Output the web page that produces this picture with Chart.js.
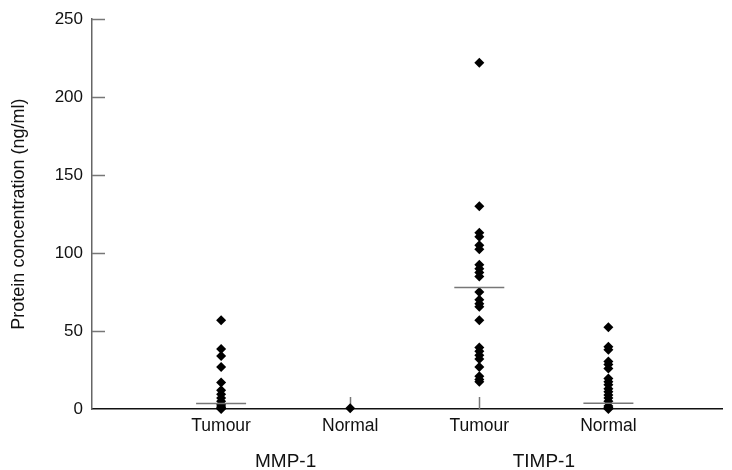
<!DOCTYPE html>
<html>
<head>
<meta charset="utf-8">
<script src="https://cdn.jsdelivr.net/npm/chart.js@4.4.1/dist/chart.umd.min.js"></script>
<style>
  html, body { margin: 0; padding: 0; background: #fff; }
  #wrap { width: 732px; height: 470px; }
</style>
</head>
<body>
<div id="wrap"><canvas id="scatterChart"></canvas></div>
<script>
// categories along the x axis
var catLabels = ['Tumour', 'Normal', 'Tumour', 'Normal'];
var groupLabels = ['MMP-1', 'TIMP-1'];
var yTicks = [0, 50, 100, 150, 200, 250];

// protein concentration (ng/ml)
var mmpTumour = [57, 38.5, 34, 27, 17, 12, 9.5, 7, 5, 3, 2, 1, 0.5, 0];
var mmpNormal = [0.5];
var timpTumour = [222, 130, 113, 110.5, 105, 102.5, 92.5, 90, 87.5, 85, 75, 70, 67.5, 65.5,
                  57, 39.5, 37, 34.5, 32, 27, 21, 19, 17.5];
var timpNormal = [52.5, 40, 38, 30.5, 28.5, 26, 19.5, 17.5, 15.5, 13, 11, 9, 7, 5, 2, 1, 0];

// medians, one per column
var medians = [3.5, null, 78, 3.7];

var groups = [mmpTumour, mmpNormal, timpTumour, timpNormal];

var pts = [];
groups.forEach(function(arr, i) {
  arr.forEach(function(v) { pts.push({x: i + 1, y: v}); });
});
var medPts = [];
medians.forEach(function(v, i) {
  if (v !== null) medPts.push({x: i + 1, y: v});
});

var FONT = "'Liberation Sans', Arial, Helvetica, sans-serif";

// inside tick marks + group names under the axis
var axisExtras = {
  id: 'axisExtras',
  beforeDatasetsDraw: function(chart) {
    var ctx = chart.ctx, xs = chart.scales.x, ys = chart.scales.y;
    ctx.save();
    ctx.strokeStyle = '#777';
    ctx.lineWidth = 1.5;
    yTicks.forEach(function(t) {
      if (t === 0) return;
      var py = Math.round(ys.getPixelForValue(t)) + 0.5;
      ctx.beginPath();
      ctx.moveTo(xs.left, py);
      ctx.lineTo(xs.left + 13, py);
      ctx.stroke();
    });
    catLabels.forEach(function(c, i) {
      var px = Math.round(xs.getPixelForValue(i + 1)) + 0.5;
      ctx.beginPath();
      ctx.moveTo(px, ys.bottom);
      ctx.lineTo(px, ys.bottom - 12);
      ctx.stroke();
    });
    ctx.restore();
  },
  afterDraw: function(chart) {
    var ctx = chart.ctx, xs = chart.scales.x;
    ctx.save();
    ctx.fillStyle = '#111';
    ctx.font = '19px ' + FONT;
    ctx.textAlign = 'center';
    ctx.textBaseline = 'middle';
    groupLabels.forEach(function(g, i) {
      ctx.fillText(g, xs.getPixelForValue(i * 2 + 1.5), 462);
    });
    ctx.restore();
  }
};

var ctx = document.getElementById('scatterChart').getContext('2d');
var myChart = new Chart(ctx, {
  type: 'scatter',
  data: {
    datasets: [
      {
        data: medPts,
        pointStyle: 'line',
        pointRadius: 25,
        pointHoverRadius: 25,
        borderColor: '#777',
        pointBorderWidth: 1.5,
        backgroundColor: '#777',
        clip: false
      },
      {
        data: pts,
        pointStyle: 'rectRot',
        pointRadius: 5,
        pointHoverRadius: 5,
        backgroundColor: '#000',
        borderColor: '#000',
        borderWidth: 0,
        clip: false
      }
    ]
  },
  options: {
    responsive: true,
    maintainAspectRatio: false,
    animation: false,
    layout: { autoPadding: false, padding: { left: 0, top: 19, right: 10, bottom: 0 } },
    plugins: {
      legend: { display: false },
      tooltip: { enabled: false }
    },
    scales: {
      x: {
        type: 'linear',
        min: 0,
        max: 4.88,
        afterBuildTicks: function(scale) {
          scale.ticks = catLabels.map(function(c, i) { return {value: i + 1}; });
        },
        afterFit: function(scale) { scale.height = 61; },
        grid: { display: false, drawTicks: false },
        border: { display: true, color: '#111', width: 1.5 },
        ticks: {
          autoSkip: false,
          maxRotation: 0,
          padding: 7,
          color: '#111',
          font: { size: 17.5, family: FONT },
          callback: function(v) { return catLabels[Math.round(v) - 1] || ''; }
        }
      },
      y: {
        min: 0,
        max: 250,
        afterBuildTicks: function(scale) {
          scale.ticks = yTicks.map(function(t) { return {value: t}; });
        },
        afterFit: function(scale) { scale.width = 92; },
        grid: { display: false, drawTicks: false },
        border: { display: true, color: '#666', width: 1.5 },
        ticks: {
          padding: 9,
          color: '#111',
          font: { size: 17, family: FONT }
        },
        title: {
          display: true,
          text: 'Protein concentration (ng/ml)',
          color: '#111',
          font: { size: 18, family: FONT },
          padding: { top: 8, bottom: 0 }
        }
      }
    }
  },
  plugins: [axisExtras]
});
</script>
</body>
</html>
